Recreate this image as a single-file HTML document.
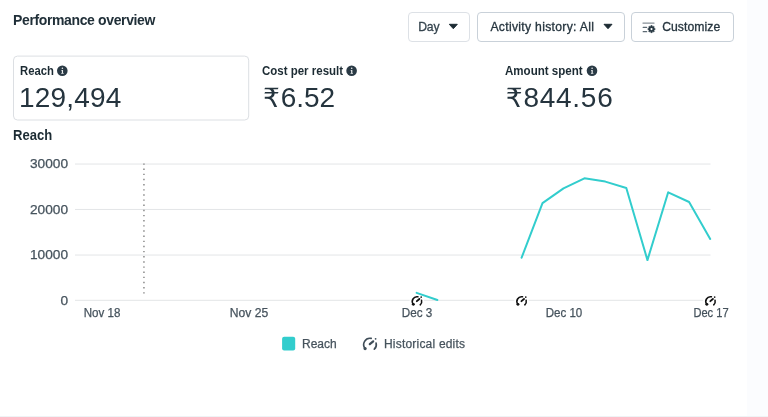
<!DOCTYPE html>
<html lang="en">
<head>
<meta charset="utf-8">
<title>Performance overview</title>
<style>
*{box-sizing:border-box;margin:0;padding:0}
html,body{width:768px;height:417px;overflow:hidden;background:#fff}
body{position:relative;font-family:"Liberation Sans","DejaVu Sans",sans-serif;color:#1c2b33;-webkit-font-smoothing:antialiased}
.abs{position:absolute;white-space:nowrap;line-height:1}
.strip{position:absolute;left:747px;top:0;width:21px;height:417px;background:#fbfcfe}
.bottom{position:absolute;left:0;top:416px;width:768px;height:1px;background:#eff3f5}
.title{left:13px;top:13px;font-size:14px;font-weight:700;letter-spacing:-0.37px;color:#202f38}
.btn{position:absolute;top:12px;height:30px;border:1px solid #c9d1d9;border-radius:4px;background:#fff;font:inherit;text-align:left;appearance:none;-webkit-appearance:none;outline:0}
.btxt{font-size:12.2px;top:8.2px;color:#26353f;-webkit-text-stroke:0.3px #26353f}
.mlabel{font-size:12px;font-weight:700;top:65px;transform-origin:0 50%}
.mval{font-size:28px;top:83.5px;font-weight:400;color:#25343e}
.mval .ru{font-size:26.5px;letter-spacing:0.8px}
.ctitle{left:13px;top:128px;font-size:14px;font-weight:700;transform-origin:0 50%;transform:scaleX(.933)}
.ylab{font-size:12.5px;color:#46535d;text-align:right;width:68px;left:0;transform-origin:100% 50%;transform:scaleX(1.095);-webkit-text-stroke:0.25px #46535d}
.xlab{font-size:12px;color:#46535d;top:307px;transform:translateX(-50%);-webkit-text-stroke:0.25px #46535d}
.leg{font-size:12px;color:#46535d;top:337.5px;-webkit-text-stroke:0.25px #46535d}
svg{position:absolute;left:0;top:0;overflow:visible}
</style>
</head>
<body>
<div class="strip"></div>
<div class="bottom"></div>

<header>
<h2 class="abs title">Performance overview</h2>

<button type="button" class="btn" style="left:408px;width:62px;border-color:#dde1e6"><span class="abs btxt" style="left:9.2px;letter-spacing:-0.15px;color:#36454f;-webkit-text-stroke-color:#36454f">Day</span></button>
<button type="button" class="btn" style="left:477px;width:148px"><span class="abs btxt" style="left:12.4px;letter-spacing:0.3px">Activity history: All</span></button>
<button type="button" class="btn" style="left:631px;width:103px"><span class="abs btxt" style="left:30.2px;letter-spacing:0.05px">Customize</span></button>
</header>

<section class="metrics">
<div class="abs mlabel" style="left:19.6px;transform:scaleX(.94)">Reach</div>
<div class="abs mval" style="left:19.1px;letter-spacing:0.15px">129,494</div>
<div class="abs mlabel" style="left:262.1px;transform:scaleX(.957)">Cost per result</div>
<div class="abs mval" style="left:263px"><span class="ru">₹</span>6.52</div>
<div class="abs mlabel" style="left:505px;transform:scaleX(.963)">Amount spent</div>
<div class="abs mval" style="left:505.8px;letter-spacing:0.72px"><span class="ru">₹</span>844.56</div>
</section>

<section class="chart">
<h3 class="abs ctitle">Reach</h3>

<div class="abs ylab" style="top:158.2px">30000</div>
<div class="abs ylab" style="top:203.5px">20000</div>
<div class="abs ylab" style="top:249px">10000</div>
<div class="abs ylab" style="top:294.5px">0</div>

<div class="abs xlab" style="left:102.2px;transform:translateX(-50%) scaleX(.965)">Nov 18</div>
<div class="abs xlab" style="left:249px;transform:translateX(-50%) scaleX(1.01)">Nov 25</div>
<div class="abs xlab" style="left:416.6px;transform:translateX(-50%) scaleX(.975)">Dec 3</div>
<div class="abs xlab" style="left:563.8px;transform:translateX(-50%) scaleX(.962)">Dec 10</div>
<div class="abs xlab" style="left:710.5px;transform:translateX(-50%) scaleX(.925)">Dec 17</div>

<div class="abs leg" style="left:302px">Reach</div>
<div class="abs leg" style="left:384px;letter-spacing:0.2px">Historical edits</div>

<svg width="768" height="417" viewBox="0 0 768 417">
  <rect x="13.5" y="56.1" width="235.2" height="63.9" rx="4" fill="none" stroke="#dcdfe3" stroke-width="1"/>
  <!-- carets -->
  <path d="M449.3 24.3h8l-4 4.4z" fill="#1c2b33" stroke="#1c2b33" stroke-width="1" stroke-linejoin="round"/>
  <path d="M604 24.3h8l-4 4.4z" fill="#1c2b33" stroke="#1c2b33" stroke-width="1" stroke-linejoin="round"/>
  <!-- grid -->
  <g stroke="#e3e5e7" stroke-width="1">
    <line x1="75" y1="164.05" x2="710.5" y2="164.05"/>
    <line x1="75" y1="209.45" x2="710.5" y2="209.45"/>
    <line x1="75" y1="255.05" x2="710.5" y2="255.05"/>
    <line x1="75" y1="300.3" x2="710.5" y2="300.3"/>
  </g>
  <line x1="143.95" y1="163.4" x2="143.95" y2="297" stroke="#777" stroke-width="1.3" stroke-dasharray="1.4 3.75"/>
  <!-- marker backgrounds -->
  <rect x="409.7" y="293.8" width="14.3" height="13" fill="#fff"/>
  <rect x="514.3" y="293.8" width="14.3" height="13" fill="#fff"/>
  <rect x="703.2" y="293.8" width="14.3" height="13" fill="#fff"/>
  <!-- series -->
  <polyline fill="none" stroke="#32cdcd" stroke-width="2" stroke-linejoin="round" stroke-linecap="round" points="416.6,292.9 437.4,300"/>
  <polyline fill="none" stroke="#32cdcd" stroke-width="2" stroke-linejoin="round" stroke-linecap="round" points="521.6,257.7 542.5,203.1 563.5,188.4 584.4,178.3 605.3,181.6 626.3,188 647.45,260.1 668.2,192.3 689.1,202 710.2,238.9"/>
  <!--ICONS-->
<!-- info icons -->
<circle cx="62.3" cy="70.8" r="5.3" fill="#2a3a45"/><circle cx="62.40" cy="68.30" r="0.8" fill="#fff" fill-opacity="0.92"/><path d="M61.35 70.00h1.7v3.1h0.6v0.75h-2.4v-0.75h0.6v-2.35h-0.5z" fill="#fff" fill-opacity="0.92"/>
<circle cx="351.6" cy="70.8" r="5.3" fill="#2a3a45"/><circle cx="351.70" cy="68.30" r="0.8" fill="#fff" fill-opacity="0.92"/><path d="M350.65 70.00h1.7v3.1h0.6v0.75h-2.4v-0.75h0.6v-2.35h-0.5z" fill="#fff" fill-opacity="0.92"/>
<circle cx="592.0" cy="70.8" r="5.3" fill="#2a3a45"/><circle cx="592.10" cy="68.30" r="0.8" fill="#fff" fill-opacity="0.92"/><path d="M591.05 70.00h1.7v3.1h0.6v0.75h-2.4v-0.75h0.6v-2.35h-0.5z" fill="#fff" fill-opacity="0.92"/>
<!-- customize icon -->
<line x1="643" y1="23.1" x2="654" y2="23.1" stroke="#868f96" stroke-width="1.35" stroke-linecap="round"/><g stroke="#5d6a73" stroke-width="1.2" stroke-linecap="round"><line x1="643.2" y1="27.4" x2="646.6" y2="27.4"/><line x1="643.2" y1="31.7" x2="646.6" y2="31.7"/></g>
<path d="M655.05 28.48L655.05 29.72L654.23 29.76L653.89 30.57L654.45 31.17L653.57 32.05L652.97 31.49L652.16 31.83L652.12 32.65L650.88 32.65L650.84 31.83L650.03 31.49L649.43 32.05L648.55 31.17L649.11 30.57L648.77 29.76L647.95 29.72L647.95 28.48L648.77 28.44L649.11 27.63L648.55 27.03L649.43 26.15L650.03 26.71L650.84 26.37L650.88 25.55L652.12 25.55L652.16 26.37L652.97 26.71L653.57 26.15L654.45 27.03L653.89 27.63L654.23 28.44Z" fill="#283943" stroke="#283943" stroke-width="0.6" stroke-linejoin="round"/><circle cx="651.5" cy="29.1" r="1.08" fill="#fff"/>
<!-- chart edit markers -->
<g fill="none" stroke="#111" stroke-linecap="round">
<path d="M413.35 304.36A4.7 4.7 0 0 1 417.90 296.79" stroke-width="1.55"/>
<path d="M421.56 300.26A4.7 4.7 0 0 1 420.21 304.84" stroke-width="1.55"/>
<path d="M416.85 301.15L419.39 298.99" stroke-width="1.9"/>
</g>
<circle cx="413.35" cy="304.36" r="1.47" fill="#111"/>
<circle cx="421.18" cy="297.12" r="0.85" fill="#111"/>
<g fill="none" stroke="#111" stroke-linecap="round">
<path d="M517.95 304.36A4.7 4.7 0 0 1 522.50 296.79" stroke-width="1.55"/>
<path d="M526.16 300.26A4.7 4.7 0 0 1 524.81 304.84" stroke-width="1.55"/>
<path d="M521.45 301.15L523.99 298.99" stroke-width="1.9"/>
</g>
<circle cx="517.95" cy="304.36" r="1.47" fill="#111"/>
<circle cx="525.78" cy="297.12" r="0.85" fill="#111"/>
<g fill="none" stroke="#111" stroke-linecap="round">
<path d="M706.85 304.36A4.7 4.7 0 0 1 711.40 296.79" stroke-width="1.55"/>
<path d="M715.06 300.26A4.7 4.7 0 0 1 713.71 304.84" stroke-width="1.55"/>
<path d="M710.35 301.15L712.89 298.99" stroke-width="1.9"/>
</g>
<circle cx="706.85" cy="304.36" r="1.47" fill="#111"/>
<circle cx="714.68" cy="297.12" r="0.85" fill="#111"/>
<!-- legend icon -->
<g fill="none" stroke="#3f4d58" stroke-linecap="round">
<path d="M365.10 348.56A6.3 6.3 0 0 1 371.20 338.42" stroke-width="1.65"/>
<path d="M376.11 343.08A6.3 6.3 0 0 1 374.30 349.21" stroke-width="1.65"/>
<path d="M369.80 344.20L373.20 341.30" stroke-width="2.2"/>
</g>
<circle cx="365.10" cy="348.56" r="1.6" fill="#3f4d58"/>
<circle cx="375.60" cy="338.80" r="0.9" fill="#3f4d58"/>
  <!--/ICONS-->
  <!-- legend square -->
  <rect x="282.1" y="336.7" width="13.1" height="13.8" rx="2" fill="#32cdcd"/>
</svg>
</section>
</body>
</html>
